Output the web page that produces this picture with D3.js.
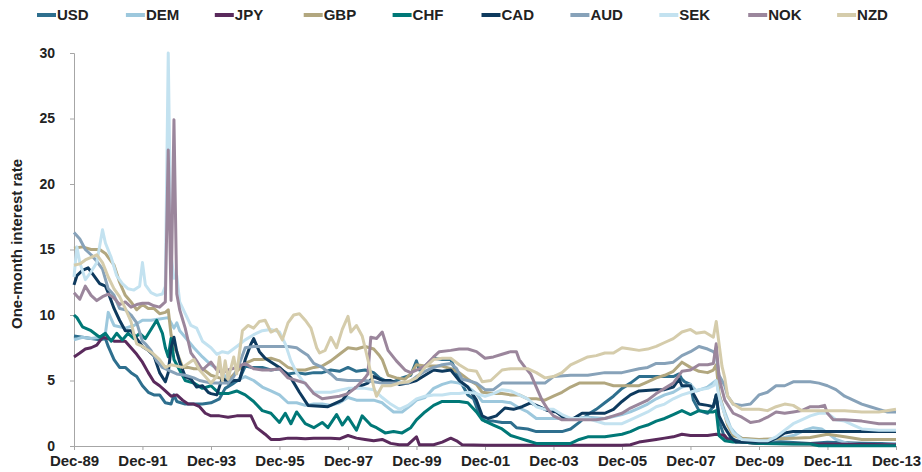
<html>
<head>
  <title>One-month interest rates</title>
  <script src="https://d3js.org/d3.v7.min.js"></script>
  <style>
    body { margin: 0; background: #fff; }
    text { font-family: "Liberation Sans", Arial, sans-serif; font-weight: bold; fill: #222; }
  </style>
</head>
<body>
  <div id="chart"></div>
  <script type="text/javascript">

    // tick labels on the time axis
    var tickLabels = ['Dec-89', 'Dec-91', 'Dec-93', 'Dec-95', 'Dec-97', 'Dec-99',
                      'Dec-01', 'Dec-03', 'Dec-05', 'Dec-07', 'Dec-09', 'Dec-11', 'Dec-13'];
    var yTicks = [0, 5, 10, 15, 20, 25, 30];

    var currencies = ['USD', 'DEM', 'JPY', 'GBP', 'CHF', 'CAD', 'AUD', 'SEK', 'NOK', 'NZD'];
    var colors = ['#2E6F8E', '#9DC8DD', '#5A2A5C', '#B2A77F', '#007877',
                  '#0E3A5E', '#87A2B9', '#C3E2F0', '#9B869C', '#D5CCAB'];

    // values: [month, rate]
    var usd = [['1989-12',8.4],['1990-03',8.3],['1990-06',8.2],['1990-09',8.1],['1990-11',8.2],['1990-12',7.6],
      ['1991-02',6.6],['1991-04',6.0],['1991-06',6.0],['1991-08',5.6],['1991-10',5.3],['1991-12',4.6],
      ['1992-02',4.1],['1992-04',3.9],['1992-06',3.9],['1992-08',3.3],['1992-10',3.2],['1992-11',3.9],['1992-12',3.4],
      ['1993-03',3.2],['1993-06',3.2],['1993-09',3.2],['1993-12',3.3],['1994-03',3.6],['1994-05',4.4],['1994-08',4.8],
      ['1994-10',5.1],['1994-12',6.1],['1995-02',6.0],['1995-06',6.0],['1995-09',5.8],['1995-12',5.9],['1996-03',5.5],
      ['1996-06',5.6],['1996-09',5.5],['1996-12',5.6],['1997-03',5.6],['1997-06',5.8],['1997-09',5.7],['1997-12',6.0],
      ['1998-03',5.7],['1998-06',5.8],['1998-09',5.6],['1998-11',5.2],['1999-01',5.0],['1999-04',4.9],['1999-07',5.2],
      ['1999-10',5.4],['1999-12',6.5],['2000-01',5.8],['2000-03',6.1],['2000-06',6.7],['2000-09',6.6],['2000-12',6.6],
      ['2001-02',5.6],['2001-04',4.7],['2001-06',3.9],['2001-08',3.6],['2001-10',2.4],['2001-12',1.9],['2002-03',1.9],
      ['2002-06',1.8],['2002-09',1.8],['2002-11',1.4],['2003-03',1.3],['2003-06',1.1],['2003-09',1.1],['2004-03',1.1],
      ['2004-06',1.3],['2004-09',1.8],['2004-12',2.4],['2005-03',2.8],['2005-06',3.3],['2005-09',3.8],['2005-12',4.4],
      ['2006-03',4.8],['2006-06',5.3],['2006-09',5.3],['2006-12',5.3],['2007-03',5.3],['2007-06',5.3],['2007-08',5.5],
      ['2007-09',5.1],['2007-10',4.9],['2007-12',4.7],['2008-01',3.5],['2008-03',2.7],['2008-06',2.5],['2008-08',3.0],
      ['2008-09',3.9],['2008-10',1.9],['2008-12',0.6],['2009-03',0.5],['2009-06',0.3],['2009-12',0.2],['2010-06',0.35],
      ['2010-12',0.26],['2011-06',0.19],['2011-12',0.29],['2012-06',0.24],['2012-12',0.21],['2013-06',0.19],['2013-12',0.17]];

    var dem = [['1989-12',8.1],['1990-03',8.3],['1990-06',8.2],['1990-09',8.3],['1990-11',8.6],['1990-12',10.2],
      ['1991-02',9.2],['1991-06',9.0],['1991-09',9.2],['1991-12',9.6],['1992-03',9.6],['1992-06',9.7],['1992-09',9.8],
      ['1992-11',9.0],['1992-12',9.4],['1993-01',8.8],['1993-03',8.3],['1993-06',7.5],['1993-09',6.8],['1993-12',6.2],
      ['1994-03',5.8],['1994-06',5.1],['1994-09',5.0],['1994-12',5.3],['1995-03',5.0],['1995-06',4.5],['1995-09',4.2],
      ['1995-12',3.9],['1996-03',3.3],['1996-06',3.3],['1996-09',3.1],['1996-12',3.2],['1997-03',3.2],['1997-06',3.1],
      ['1997-09',3.3],['1997-12',3.7],['1998-03',3.5],['1998-06',3.5],['1998-09',3.5],['1998-12',3.3],['1999-01',3.1],
      ['1999-04',2.6],['1999-07',2.6],['1999-10',3.1],['1999-12',3.5],['2000-03',3.7],['2000-06',4.4],['2000-09',4.7],
      ['2000-12',4.9],['2001-03',4.8],['2001-06',4.5],['2001-09',4.0],['2001-11',3.4],['2002-03',3.4],['2002-06',3.4],
      ['2002-09',3.3],['2002-12',2.9],['2003-03',2.6],['2003-06',2.1],['2003-12',2.1],['2004-06',2.1],['2004-12',2.2],
      ['2005-06',2.1],['2005-12',2.4],['2006-03',2.6],['2006-06',2.9],['2006-09',3.2],['2006-12',3.6],['2007-03',3.9],
      ['2007-06',4.1],['2007-09',4.5],['2007-12',4.7],['2008-02',4.2],['2008-06',4.5],['2008-09',5.0],['2008-10',3.9],
      ['2008-12',2.6],['2009-02',1.4],['2009-04',0.9],['2009-06',0.6],['2009-12',0.4],['2010-06',0.5],['2010-12',0.8],
      ['2011-04',1.2],['2011-07',1.4],['2011-10',1.3],['2011-12',1.0],['2012-03',0.5],['2012-07',0.2],['2012-12',0.1],
      ['2013-06',0.1],['2013-12',0.2]];

    var jpy = [['1989-12',6.8],['1990-02',7.1],['1990-04',7.4],['1990-06',7.5],['1990-08',7.7],['1990-10',8.3],
      ['1990-12',8.2],['1991-02',8.0],['1991-04',8.0],['1991-06',8.0],['1991-08',7.5],['1991-10',7.0],['1991-12',6.4],
      ['1992-02',5.6],['1992-04',4.9],['1992-06',4.6],['1992-08',4.2],['1992-10',3.8],['1992-12',3.9],['1993-02',3.5],
      ['1993-04',3.2],['1993-06',3.2],['1993-08',3.0],['1993-10',2.5],['1993-12',2.3],['1994-03',2.3],['1994-06',2.2],
      ['1994-09',2.3],['1994-12',2.3],['1995-02',2.3],['1995-04',1.4],['1995-07',0.9],['1995-09',0.5],['1995-12',0.5],
      ['1996-03',0.6],['1996-06',0.6],['1996-09',0.55],['1996-12',0.6],['1997-03',0.6],['1997-06',0.6],['1997-09',0.55],
      ['1997-12',0.8],['1998-03',0.6],['1998-06',0.5],['1998-09',0.4],['1998-12',0.5],['1999-03',0.2],['1999-06',0.1],
      ['1999-09',0.1],['1999-12',0.7],['2000-01',0.1],['2000-06',0.1],['2000-09',0.3],['2000-12',0.6],['2001-02',0.4],
      ['2001-04',0.1],['2001-12',0.05],['2003-12',0.05],['2005-12',0.05],['2006-03',0.1],['2006-06',0.3],['2006-09',0.4],
      ['2006-12',0.5],['2007-03',0.6],['2007-06',0.7],['2007-09',0.9],['2007-12',0.8],['2008-03',0.8],['2008-06',0.8],
      ['2008-09',0.9],['2008-12',0.8],['2009-01',0.5],['2009-03',0.4],['2009-06',0.3],['2009-12',0.2],['2010-06',0.2],
      ['2013-12',0.1]];

    var gbp = [['1989-12',15.1],['1990-03',15.2],['1990-06',15.0],['1990-09',15.0],['1990-11',14.7],['1990-12',14.4],
      ['1991-02',13.8],['1991-04',12.5],['1991-06',11.5],['1991-08',11.0],['1991-10',10.4],['1991-12',10.8],
      ['1992-02',10.5],['1992-04',10.5],['1992-06',10.1],['1992-08',10.2],['1992-09',10.4],['1992-10',8.5],
      ['1992-11',7.5],['1992-12',7.2],['1993-02',6.0],['1993-04',6.0],['1993-06',5.9],['1993-09',5.9],['1993-12',5.4],
      ['1994-03',5.2],['1994-06',5.0],['1994-09',5.7],['1994-12',6.3],['1995-03',6.6],['1995-06',6.6],['1995-09',6.7],
      ['1995-12',6.5],['1996-03',6.0],['1996-06',5.8],['1996-09',5.8],['1996-12',6.0],['1997-03',6.1],['1997-06',6.5],
      ['1997-09',7.0],['1997-12',7.5],['1998-03',7.4],['1998-06',7.6],['1998-09',7.4],['1998-11',6.9],['1998-12',6.6],
      ['1999-02',5.4],['1999-05',5.2],['1999-08',5.1],['1999-10',5.5],['1999-12',6.2],['2000-03',6.1],['2000-06',6.1],
      ['2000-09',6.1],['2000-12',5.9],['2001-03',5.6],['2001-06',5.1],['2001-09',4.7],['2001-11',4.1],['2002-03',4.0],
      ['2002-06',4.0],['2002-09',3.9],['2002-12',3.9],['2003-03',3.6],['2003-06',3.6],['2003-09',3.5],['2003-12',3.8],
      ['2004-03',4.1],['2004-06',4.5],['2004-09',4.8],['2004-12',4.8],['2005-06',4.8],['2005-09',4.6],['2005-12',4.6],
      ['2006-06',4.6],['2006-09',4.9],['2006-12',5.2],['2007-03',5.4],['2007-06',5.7],['2007-09',6.4],['2007-12',6.0],
      ['2008-03',5.7],['2008-06',5.6],['2008-08',5.8],['2008-09',6.2],['2008-10',4.0],['2008-12',2.4],['2009-01',1.6],
      ['2009-03',0.8],['2009-06',0.6],['2009-12',0.5],['2010-12',0.6],['2011-06',0.65],['2011-12',0.9],['2012-06',0.7],
      ['2012-12',0.5],['2013-12',0.5]];

    var chf = [['1989-12',10.0],['1990-01',9.8],['1990-03',9.1],['1990-06',8.8],['1990-09',8.3],['1990-11',8.6],
      ['1991-01',8.0],['1991-03',8.6],['1991-05',8.1],['1991-07',8.6],['1991-09',8.2],['1991-11',8.6],['1992-01',8.2],
      ['1992-03',8.9],['1992-05',9.6],['1992-07',8.6],['1992-08',7.5],['1992-09',6.8],['1992-10',8.2],['1992-11',6.6],
      ['1992-12',6.2],['1993-03',5.0],['1993-06',4.8],['1993-09',4.4],['1993-12',4.6],['1994-03',4.0],['1994-06',4.0],
      ['1994-09',4.2],['1994-12',3.9],['1995-03',3.4],['1995-06',2.7],['1995-09',2.5],['1995-12',1.8],['1996-02',2.5],
      ['1996-04',1.7],['1996-06',2.6],['1996-09',1.7],['1996-12',1.4],['1997-03',1.8],['1997-05',1.4],['1997-08',2.4],
      ['1997-10',1.6],['1997-12',2.2],['1998-03',1.2],['1998-05',2.3],['1998-08',1.6],['1998-10',1.4],['1999-01',1.0],
      ['1999-04',1.1],['1999-07',1.0],['1999-10',1.4],['1999-12',2.0],['2000-03',2.6],['2000-06',3.1],['2000-09',3.4],
      ['2000-12',3.4],['2001-03',3.4],['2001-06',3.3],['2001-09',2.6],['2001-11',2.0],['2002-03',1.6],['2002-06',1.3],
      ['2002-09',0.8],['2002-12',0.6],['2003-03',0.4],['2003-06',0.2],['2003-12',0.2],['2004-03',0.2],['2004-06',0.2],
      ['2004-09',0.5],['2004-12',0.7],['2005-06',0.7],['2005-12',0.9],['2006-03',1.1],['2006-06',1.4],['2006-09',1.6],
      ['2006-12',1.9],['2007-03',2.1],['2007-06',2.4],['2007-09',2.7],['2007-12',2.4],['2008-03',2.7],['2008-06',2.6],
      ['2008-08',2.6],['2008-09',2.7],['2008-10',0.8],['2008-12',0.4],['2009-03',0.3],['2009-06',0.3],['2009-12',0.2],
      ['2010-12',0.15],['2011-06',0.15],['2011-09',0.02],['2012-06',0.02],['2013-12',0.02]];

    var cad = [['1989-12',12.3],['1990-01',13.0],['1990-03',13.4],['1990-05',13.6],['1990-07',13.0],['1990-09',12.4],
      ['1990-11',12.2],['1990-12',11.7],['1991-02',10.5],['1991-04',9.6],['1991-06',8.8],['1991-08',8.8],['1991-10',8.2],
      ['1991-12',7.6],['1992-02',7.3],['1992-04',6.9],['1992-06',5.6],['1992-08',4.9],['1992-09',5.6],['1992-10',7.5],
      ['1992-11',8.3],['1992-12',7.2],['1993-01',6.4],['1993-03',5.3],['1993-05',5.1],['1993-07',4.5],['1993-09',4.6],
      ['1993-11',4.1],['1993-12',4.0],['1994-02',3.9],['1994-04',5.2],['1994-06',4.8],['1994-08',5.0],['1994-10',5.0],
      ['1994-12',6.6],['1995-02',7.8],['1995-03',8.2],['1995-05',7.2],['1995-07',6.7],['1995-12',6.0],['1996-04',5.2],
      ['1996-07',4.1],['1996-10',3.1],['1997-05',3.0],['1997-10',3.5],['1998-01',4.3],['1998-07',4.8],['1998-09',5.3],
      ['1998-12',5.0],['1999-03',5.0],['1999-06',4.7],['1999-09',4.8],['1999-12',5.0],['2000-03',5.4],['2000-06',5.8],
      ['2000-09',5.7],['2000-12',5.8],['2001-03',5.0],['2001-06',4.5],['2001-09',3.5],['2001-11',2.3],['2002-01',2.1],
      ['2002-04',2.3],['2002-07',2.9],['2002-10',2.8],['2003-01',3.0],['2003-04',3.3],['2003-07',3.0],['2003-10',2.7],
      ['2004-01',2.6],['2004-04',2.1],['2004-07',2.1],['2004-10',2.5],['2005-01',2.5],['2005-06',2.5],['2005-09',2.8],
      ['2005-12',3.4],['2006-03',3.9],['2006-06',4.2],['2006-12',4.3],['2007-03',4.3],['2007-06',4.5],['2007-08',5.1],
      ['2007-09',4.6],['2007-12',4.6],['2008-01',4.0],['2008-03',3.2],['2008-06',3.1],['2008-08',3.0],['2008-09',3.9],
      ['2008-10',2.3],['2008-12',1.4],['2009-02',0.7],['2009-04',0.3],['2009-12',0.3],['2010-03',0.3],['2010-06',0.6],
      ['2010-09',1.0],['2010-12',1.1],['2011-12',1.1],['2012-12',1.1],['2013-12',1.1]];

    var aud = [['1989-12',16.3],['1990-02',15.8],['1990-04',15.0],['1990-06',14.6],['1990-08',14.1],['1990-10',13.5],
      ['1990-12',12.0],['1991-02',11.5],['1991-04',10.5],['1991-06',10.4],['1991-08',10.0],['1991-10',9.4],['1991-12',8.0],
      ['1992-01',7.8],['1992-03',7.3],['1992-05',6.5],['1992-07',6.0],['1992-09',5.8],['1992-12',5.5],['1993-03',5.4],
      ['1993-06',5.2],['1993-08',5.0],['1993-12',4.8],['1994-03',4.8],['1994-06',4.8],['1994-08',5.3],['1994-10',6.3],
      ['1994-12',7.5],['1995-03',7.6],['1995-06',7.6],['1995-09',7.6],['1995-12',7.6],['1996-03',7.6],['1996-06',7.5],
      ['1996-08',7.2],['1996-10',6.9],['1996-12',6.3],['1997-03',6.0],['1997-06',5.5],['1997-08',5.1],['1997-12',5.0],
      ['1998-06',5.0],['1998-12',4.8],['1999-06',4.8],['1999-09',4.8],['1999-12',5.3],['2000-03',5.7],['2000-06',6.0],
      ['2000-09',6.2],['2000-12',6.3],['2001-02',5.9],['2001-04',5.1],['2001-06',5.0],['2001-09',4.8],['2001-12',4.3],
      ['2002-03',4.3],['2002-06',4.8],['2002-12',4.8],['2003-06',4.8],['2003-09',4.8],['2003-12',5.3],['2004-06',5.4],
      ['2004-12',5.4],['2005-06',5.6],['2005-12',5.6],['2006-06',5.9],['2006-09',6.0],['2006-12',6.3],['2007-03',6.3],
      ['2007-06',6.4],['2007-09',6.9],['2007-12',7.2],['2008-03',7.6],['2008-06',7.4],['2008-08',7.2],['2008-09',6.9],
      ['2008-10',5.4],['2008-12',4.6],['2009-01',3.8],['2009-03',3.2],['2009-06',3.1],['2009-09',3.2],['2009-12',3.9],
      ['2010-03',4.1],['2010-06',4.6],['2010-09',4.6],['2010-12',4.9],['2011-03',4.9],['2011-06',4.9],['2011-09',4.8],
      ['2011-12',4.6],['2012-03',4.3],['2012-06',3.8],['2012-09',3.5],['2012-12',3.2],['2013-03',3.0],['2013-06',2.8],
      ['2013-09',2.6],['2013-12',2.6]];

    var sek = [['1989-12',12.9],['1990-01',15.2],['1990-02',14.0],['1990-04',12.7],['1990-06',13.3],['1990-08',14.0],
      ['1990-10',16.5],['1990-11',15.5],['1991-01',14.4],['1991-03',13.0],['1991-05',12.4],['1991-07',12.0],
      ['1991-09',11.9],['1991-11',12.2],['1991-12',14.0],['1992-01',12.3],['1992-03',11.7],['1992-05',11.5],
      ['1992-07',11.6],['1992-08',12.2],['1992-09',30.0],['1992-10',14.5],['1992-11',12.8],['1992-12',13.0],
      ['1993-01',11.0],['1993-03',10.1],['1993-05',9.2],['1993-07',9.0],['1993-09',8.0],['1993-12',7.5],['1994-02',7.0],
      ['1994-04',7.2],['1994-06',7.1],['1994-09',7.6],['1994-12',8.1],['1995-03',8.5],['1995-06',8.8],['1995-09',8.9],
      ['1995-12',8.7],['1996-02',7.8],['1996-04',6.5],['1996-06',5.6],['1996-08',5.0],['1996-10',4.5],['1996-12',4.1],
      ['1997-06',4.1],['1997-12',4.4],['1998-06',4.4],['1998-09',4.3],['1998-12',3.7],['1999-03',3.2],['1999-06',2.8],
      ['1999-09',3.1],['1999-12',3.6],['2000-03',3.8],['2000-06',3.9],['2000-09',3.9],['2000-12',4.0],['2001-03',4.0],
      ['2001-06',4.1],['2001-09',4.0],['2001-12',3.8],['2002-03',4.0],['2002-06',4.3],['2002-09',4.2],['2002-12',3.9],
      ['2003-03',3.6],['2003-06',3.0],['2003-09',2.8],['2003-12',2.8],['2004-03',2.4],['2004-06',2.1],['2004-12',2.1],
      ['2005-06',1.7],['2005-12',1.7],['2006-03',2.0],['2006-06',2.3],['2006-09',2.6],['2006-12',3.0],['2007-03',3.2],
      ['2007-06',3.6],['2007-09',3.9],['2007-12',4.1],['2008-03',4.3],['2008-06',4.4],['2008-08',4.6],['2008-09',5.0],
      ['2008-10',3.8],['2008-12',2.4],['2009-01',1.8],['2009-03',1.0],['2009-06',0.5],['2009-12',0.4],['2010-03',0.4],
      ['2010-06',0.7],['2010-09',1.2],['2010-12',1.7],['2011-03',2.0],['2011-06',2.3],['2011-09',2.5],['2011-12',2.5],
      ['2012-03',2.0],['2012-06',1.9],['2012-09',1.6],['2012-12',1.3],['2013-06',1.2],['2013-12',1.2]];

    var nok = [['1989-12',11.7],['1990-02',11.2],['1990-04',12.2],['1990-06',11.5],['1990-08',11.1],['1990-10',11.4],
      ['1990-12',11.6],['1991-02',11.3],['1991-04',10.8],['1991-06',11.0],['1991-08',10.6],['1991-10',10.8],
      ['1991-12',10.9],['1992-02',10.9],['1992-04',10.7],['1992-06',10.6],['1992-08',11.0],['1992-09',22.6],
      ['1992-10',11.1],['1992-11',24.9],['1992-12',11.6],['1993-01',10.4],['1993-03',9.0],['1993-05',7.1],
      ['1993-07',6.5],['1993-09',5.8],['1993-12',6.4],['1994-02',5.8],['1994-04',5.6],['1994-06',5.8],['1994-09',6.0],
      ['1994-12',6.3],['1995-03',5.9],['1995-06',5.8],['1995-09',5.8],['1995-12',5.9],['1996-03',5.2],['1996-06',5.0],
      ['1996-09',4.8],['1996-12',4.0],['1997-03',3.6],['1997-06',3.7],['1997-09',3.8],['1997-12',4.0],['1998-03',4.5],
      ['1998-06',5.2],['1998-07',5.5],['1998-08',8.3],['1998-10',8.2],['1998-12',8.7],['1999-02',7.3],['1999-05',6.5],
      ['1999-08',5.8],['1999-10',5.6],['1999-12',5.8],['2000-03',6.1],['2000-06',6.8],['2000-08',7.2],['2000-12',7.3],
      ['2001-03',7.4],['2001-06',7.4],['2001-09',7.2],['2001-12',6.7],['2002-03',6.8],['2002-06',7.0],['2002-09',7.2],
      ['2002-11',7.2],['2002-12',6.6],['2003-02',6.0],['2003-04',5.5],['2003-06',4.5],['2003-08',3.5],['2003-10',2.8],
      ['2003-12',2.3],['2004-03',2.0],['2004-06',2.0],['2005-03',2.0],['2005-06',2.1],['2005-09',2.3],['2005-12',2.5],
      ['2006-03',2.9],['2006-06',3.2],['2006-09',3.5],['2006-12',4.0],['2007-03',4.4],['2007-06',4.8],['2007-09',5.7],
      ['2007-12',5.8],['2008-03',6.2],['2008-06',6.2],['2008-08',6.3],['2008-09',7.8],['2008-10',5.2],['2008-12',3.5],
      ['2009-03',2.5],['2009-06',2.2],['2009-09',1.8],['2009-12',1.9],['2010-03',2.2],['2010-06',2.6],['2010-09',2.5],
      ['2010-12',2.6],['2011-03',2.7],['2011-06',3.0],['2011-09',3.0],['2011-11',3.1],['2011-12',2.5],['2012-02',2.0],
      ['2012-06',2.0],['2012-12',1.9],['2013-06',1.7],['2013-12',1.7]];

    var nzd = [['1989-12',13.8],['1990-02',13.9],['1990-04',14.2],['1990-06',14.4],['1990-08',14.6],['1990-10',14.0],
      ['1990-12',12.9],['1991-02',12.0],['1991-04',11.4],['1991-06',10.5],['1991-08',9.5],['1991-09',8.5],
      ['1991-10',7.8],['1991-12',7.6],['1992-02',7.3],['1992-04',7.0],['1992-06',6.6],['1992-08',6.0],['1992-10',6.2],
      ['1992-12',6.1],['1993-02',6.0],['1993-04',6.3],['1993-06',6.6],['1993-08',5.8],['1993-10',5.3],['1993-12',4.8],
      ['1994-02',5.3],['1994-03',6.8],['1994-04',5.0],['1994-05',6.5],['1994-06',5.1],['1994-08',6.8],['1994-09',5.5],
      ['1994-11',8.8],['1995-01',9.2],['1995-03',9.0],['1995-05',9.5],['1995-07',9.6],['1995-09',8.7],['1995-11',8.9],
      ['1996-01',8.1],['1996-03',9.4],['1996-05',10.0],['1996-07',10.1],['1996-09',9.6],['1996-11',9.0],['1997-01',7.5],
      ['1997-02',7.1],['1997-04',7.3],['1997-06',8.3],['1997-08',7.5],['1997-10',8.9],['1997-12',9.9],['1998-01',8.7],
      ['1998-03',9.2],['1998-05',8.4],['1998-06',7.5],['1998-07',6.6],['1998-09',4.5],['1998-10',3.8],['1998-12',4.6],
      ['1999-03',4.6],['1999-06',4.8],['1999-09',4.9],['1999-12',5.2],['2000-03',6.0],['2000-06',6.6],['2000-09',6.7],
      ['2000-12',6.7],['2001-03',6.2],['2001-06',5.8],['2001-09',5.7],['2001-11',4.9],['2002-02',5.0],['2002-06',5.8],
      ['2002-09',5.9],['2002-12',5.9],['2003-03',5.9],['2003-06',5.6],['2003-09',5.2],['2003-12',5.3],['2004-03',5.6],
      ['2004-06',6.2],['2004-09',6.5],['2004-12',6.8],['2005-03',6.9],['2005-06',7.1],['2005-09',7.1],['2005-12',7.5],
      ['2006-03',7.4],['2006-06',7.3],['2006-09',7.4],['2006-12',7.6],['2007-03',7.9],['2007-06',8.2],['2007-09',8.7],
      ['2007-12',8.9],['2008-02',8.6],['2008-05',8.7],['2008-08',8.3],['2008-09',9.5],['2008-10',7.8],['2008-11',6.1],
      ['2008-12',5.2],['2009-01',3.8],['2009-03',3.2],['2009-06',2.8],['2009-09',2.8],['2009-12',2.8],['2010-03',2.7],
      ['2010-06',3.0],['2010-09',3.2],['2010-12',3.1],['2011-03',2.7],['2011-06',2.7],['2011-12',2.7],['2012-06',2.7],
      ['2012-12',2.6],['2013-06',2.6],['2013-12',2.8]];

    var seriesValues = [usd, dem, jpy, gbp, chf, cad, aud, sek, nok, nzd];

    var width = 922, height = 472;
    var margin = {top: 53, right: 26, bottom: 26, left: 74};

    var parseMonth = d3.timeParse('%Y-%m');
    var tickDates = tickLabels.map(function(s) { return d3.timeParse('%b-%y')(s); });

    var x = d3.scaleTime()
      .domain([parseMonth('1989-12'), parseMonth('2013-12')])
      .range([margin.left, width - margin.right]);
    var y = d3.scaleLinear().domain([0, 30]).range([height - margin.bottom, margin.top]);

    var svg = d3.select('#chart').append('svg')
      .attr('width', width)
      .attr('height', height);

    // y axis
    var yAxis = svg.append('g')
      .attr('transform', 'translate(' + margin.left + ',0)')
      .call(d3.axisLeft(y).tickValues(yTicks).tickSize(4).tickPadding(15));
    yAxis.selectAll('text').style('font-size', '14px');

    // x axis
    var xAxis = svg.append('g')
      .attr('transform', 'translate(0,' + y(0) + ')')
      .call(d3.axisBottom(x).tickValues(tickDates).tickSize(4).tickPadding(5)
        .tickFormat(function(d, i) { return tickLabels[i]; }));
    xAxis.selectAll('text').style('font-size', '15px');

    svg.selectAll('.domain, .tick line').attr('stroke', '#A6A6A6');

    svg.append('text')
      .attr('transform', 'rotate(-90)')
      .attr('x', -244)
      .attr('y', 22)
      .attr('text-anchor', 'middle')
      .style('font-size', '15px')
      .text('One-month interest rate');

    var line = d3.line()
      .x(function(d) { return x(parseMonth(d[0])); })
      .y(function(d) { return y(d[1]); });

    svg.append('g')
      .selectAll('path')
      .data(seriesValues)
      .enter().append('path')
        .attr('d', line)
        .attr('fill', 'none')
        .attr('stroke', function(d, i) { return colors[i]; })
        .attr('stroke-width', 3)
        .attr('stroke-linejoin', 'round');

    // legend across the top
    var legend = svg.append('g').attr('transform', 'translate(37,15)');
    var item = legend.selectAll('g')
      .data(currencies)
      .enter().append('g')
        .attr('transform', function(d, i) { return 'translate(' + (i * 88.9) + ',0)'; });
    item.append('line')
      .attr('x1', 0).attr('x2', 19)
      .attr('stroke', function(d, i) { return colors[i]; })
      .attr('stroke-width', 4);
    item.append('text')
      .attr('x', 20)
      .attr('dy', '0.36em')
      .style('font-size', '15px')
      .text(function(d) { return d; });

  </script>
</body>
</html>
